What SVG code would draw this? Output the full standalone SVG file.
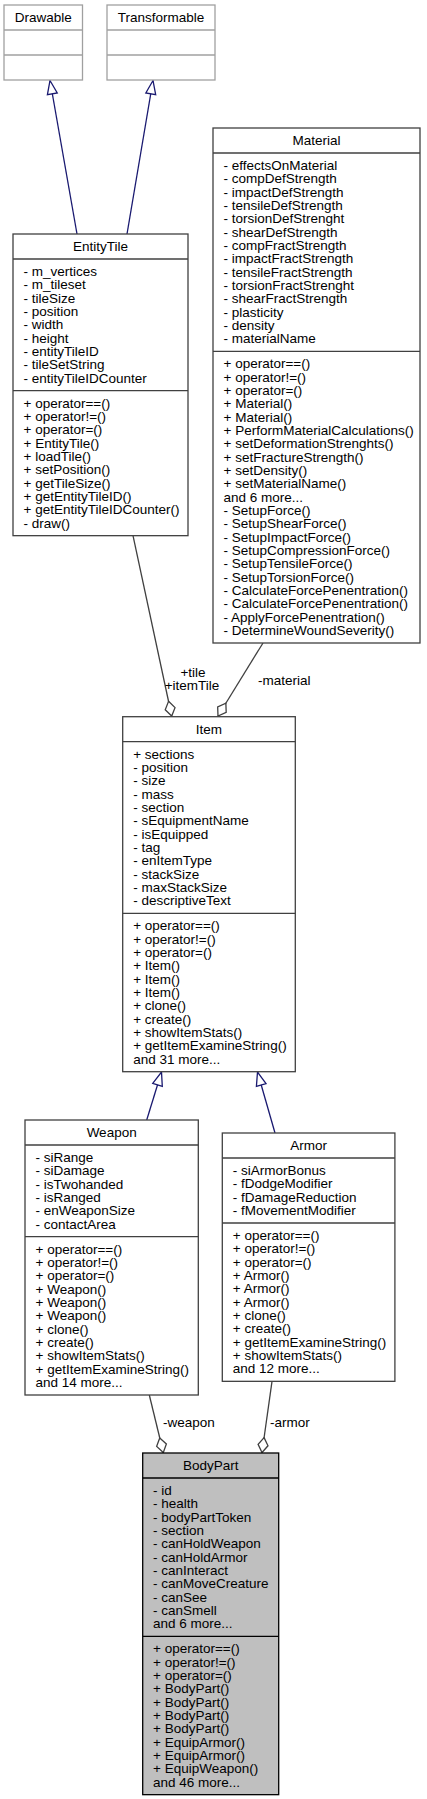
<svg xmlns="http://www.w3.org/2000/svg" width="427" height="1799" viewBox="0 0 427 1799">
<style>
text{font-family:"Liberation Sans",Arial,Helvetica,sans-serif;font-size:13.5px;fill:#000}
.t{text-anchor:middle}
.box{fill:#fff;stroke:#404040;stroke-width:1.3}
.ext{fill:#fff;stroke:#a0a0a0;stroke-width:1.3}
.focus{fill:#bfbfbf;stroke:#000;stroke-width:1.3}
.sep{stroke:#404040;stroke-width:1.3}
.sepx{stroke:#a0a0a0;stroke-width:1.3}
.sepf{stroke:#000;stroke-width:1.3}
.inh{fill:none;stroke:#191970;stroke-width:1.3}
.use{fill:none;stroke:#404040;stroke-width:1.3}
</style>
<defs>
<marker id="tri" markerUnits="userSpaceOnUse" markerWidth="16" markerHeight="12" viewBox="0 0 16 12" refX="15" refY="6" orient="auto" overflow="visible">
<path d="M1.5,1 L15,6 L1.5,11 Z" fill="#fff" stroke="#191970" stroke-width="1.3"/>
</marker>
<marker id="dia" markerUnits="userSpaceOnUse" markerWidth="17" markerHeight="12" viewBox="0 0 17 12" refX="16" refY="6" orient="auto" overflow="visible">
<path d="M1,6 L8.5,1 L16,6 L8.5,11 Z" fill="#fff" stroke="#404040" stroke-width="1.3"/>
</marker>
</defs>
<rect width="427" height="1799" fill="#fff"/>

<g id="connectors">
<path class="inh" d="M77,234 L50,80.5" marker-end="url(#tri)"/>
<path class="inh" d="M127,234 L153,80.5" marker-end="url(#tri)"/>
<path class="use" d="M133,535.7 L171.7,716" marker-end="url(#dia)"/>
<text x="193" y="677" class="t">+tile</text>
<text x="192" y="690" class="t">+itemTile</text>
<path class="use" d="M263,643 L218,716" marker-end="url(#dia)"/>
<text x="258" y="685">-material</text>
<path class="inh" d="M146.7,1120 L161.5,1072" marker-end="url(#tri)"/>
<path class="inh" d="M275,1133 L257.5,1072" marker-end="url(#tri)"/>
<path class="use" d="M149.3,1395 L163.3,1452.5" marker-end="url(#dia)"/>
<text x="163" y="1427">-weapon</text>
<path class="use" d="M272,1381.3 L262,1452.5" marker-end="url(#dia)"/>
<text x="270" y="1427">-armor</text>
</g>

<g id="node-Drawable">
<rect class="ext" x="4" y="5" width="78.5" height="75"/>
<line class="sepx" x1="4" y1="30" x2="82.5" y2="30"/>
<line class="sepx" x1="4" y1="55" x2="82.5" y2="55"/>
<text x="43.25" y="22" class="t">Drawable</text>
</g>

<g id="node-Transformable">
<rect class="ext" x="107" y="5" width="108" height="75"/>
<line class="sepx" x1="107" y1="30" x2="215" y2="30"/>
<line class="sepx" x1="107" y1="55" x2="215" y2="55"/>
<text x="161" y="22" class="t">Transformable</text>
</g>

<g id="node-EntityTile">
<rect class="box" x="13" y="234" width="175" height="301.67"/>
<line class="sep" x1="13" y1="259" x2="188" y2="259"/>
<line class="sep" x1="13" y1="390.67" x2="188" y2="390.67"/>
<text x="100.5" y="251" class="t">EntityTile</text>
<text x="23.5" y="276"><tspan x="23.5">- m_vertices</tspan><tspan x="23.5" dy="13.33">- m_tileset</tspan><tspan x="23.5" dy="13.33">- tileSize</tspan><tspan x="23.5" dy="13.33">- position</tspan><tspan x="23.5" dy="13.33">- width</tspan><tspan x="23.5" dy="13.33">- height</tspan><tspan x="23.5" dy="13.33">- entityTileID</tspan><tspan x="23.5" dy="13.33">- tileSetString</tspan><tspan x="23.5" dy="13.33">- entityTileIDCounter</tspan></text>
<text x="23.5" y="407.67"><tspan x="23.5">+ operator==()</tspan><tspan x="23.5" dy="13.33">+ operator!=()</tspan><tspan x="23.5" dy="13.33">+ operator=()</tspan><tspan x="23.5" dy="13.33">+ EntityTile()</tspan><tspan x="23.5" dy="13.33">+ loadTile()</tspan><tspan x="23.5" dy="13.33">+ setPosition()</tspan><tspan x="23.5" dy="13.33">+ getTileSize()</tspan><tspan x="23.5" dy="13.33">+ getEntityTileID()</tspan><tspan x="23.5" dy="13.33">+ getEntityTileIDCounter()</tspan><tspan x="23.5" dy="13.33">- draw()</tspan></text>
</g>

<g id="node-Material">
<rect class="box" x="213" y="128" width="207" height="515"/>
<line class="sep" x1="213" y1="153" x2="420" y2="153"/>
<line class="sep" x1="213" y1="351.33" x2="420" y2="351.33"/>
<text x="316.5" y="145" class="t">Material</text>
<text x="223.5" y="170"><tspan x="223.5">- effectsOnMaterial</tspan><tspan x="223.5" dy="13.33">- compDefStrength</tspan><tspan x="223.5" dy="13.33">- impactDefStrength</tspan><tspan x="223.5" dy="13.33">- tensileDefStrength</tspan><tspan x="223.5" dy="13.33">- torsionDefStrenght</tspan><tspan x="223.5" dy="13.33">- shearDefStrength</tspan><tspan x="223.5" dy="13.33">- compFractStrength</tspan><tspan x="223.5" dy="13.33">- impactFractStrength</tspan><tspan x="223.5" dy="13.33">- tensileFractStrength</tspan><tspan x="223.5" dy="13.33">- torsionFractStrenght</tspan><tspan x="223.5" dy="13.33">- shearFractStrength</tspan><tspan x="223.5" dy="13.33">- plasticity</tspan><tspan x="223.5" dy="13.33">- density</tspan><tspan x="223.5" dy="13.33">- materialName</tspan></text>
<text x="223.5" y="368.33"><tspan x="223.5">+ operator==()</tspan><tspan x="223.5" dy="13.33">+ operator!=()</tspan><tspan x="223.5" dy="13.33">+ operator=()</tspan><tspan x="223.5" dy="13.33">+ Material()</tspan><tspan x="223.5" dy="13.33">+ Material()</tspan><tspan x="223.5" dy="13.33">+ PerformMaterialCalculations()</tspan><tspan x="223.5" dy="13.33">+ setDeformationStrenghts()</tspan><tspan x="223.5" dy="13.33">+ setFractureStrength()</tspan><tspan x="223.5" dy="13.33">+ setDensity()</tspan><tspan x="223.5" dy="13.33">+ setMaterialName()</tspan><tspan x="223.5" dy="13.33">and 6 more...</tspan><tspan x="223.5" dy="13.33">- SetupForce()</tspan><tspan x="223.5" dy="13.33">- SetupShearForce()</tspan><tspan x="223.5" dy="13.33">- SetupImpactForce()</tspan><tspan x="223.5" dy="13.33">- SetupCompressionForce()</tspan><tspan x="223.5" dy="13.33">- SetupTensileForce()</tspan><tspan x="223.5" dy="13.33">- SetupTorsionForce()</tspan><tspan x="223.5" dy="13.33">- CalculateForcePenentration()</tspan><tspan x="223.5" dy="13.33">- CalculateForcePenentration()</tspan><tspan x="223.5" dy="13.33">- ApplyForcePenentration()</tspan><tspan x="223.5" dy="13.33">- DetermineWoundSeverity()</tspan></text>
</g>

<g id="node-Item">
<rect class="box" x="122.7" y="716.7" width="172.6" height="355"/>
<line class="sep" x1="122.7" y1="741.7" x2="295.3" y2="741.7"/>
<line class="sep" x1="122.7" y1="913.37" x2="295.3" y2="913.37"/>
<text x="209" y="733.7" class="t">Item</text>
<text x="133.2" y="758.7"><tspan x="133.2">+ sections</tspan><tspan x="133.2" dy="13.33">- position</tspan><tspan x="133.2" dy="13.33">- size</tspan><tspan x="133.2" dy="13.33">- mass</tspan><tspan x="133.2" dy="13.33">- section</tspan><tspan x="133.2" dy="13.33">- sEquipmentName</tspan><tspan x="133.2" dy="13.33">- isEquipped</tspan><tspan x="133.2" dy="13.33">- tag</tspan><tspan x="133.2" dy="13.33">- enItemType</tspan><tspan x="133.2" dy="13.33">- stackSize</tspan><tspan x="133.2" dy="13.33">- maxStackSize</tspan><tspan x="133.2" dy="13.33">- descriptiveText</tspan></text>
<text x="133.2" y="930.37"><tspan x="133.2">+ operator==()</tspan><tspan x="133.2" dy="13.33">+ operator!=()</tspan><tspan x="133.2" dy="13.33">+ operator=()</tspan><tspan x="133.2" dy="13.33">+ Item()</tspan><tspan x="133.2" dy="13.33">+ Item()</tspan><tspan x="133.2" dy="13.33">+ Item()</tspan><tspan x="133.2" dy="13.33">+ clone()</tspan><tspan x="133.2" dy="13.33">+ create()</tspan><tspan x="133.2" dy="13.33">+ showItemStats()</tspan><tspan x="133.2" dy="13.33">+ getItemExamineString()</tspan><tspan x="133.2" dy="13.33">and 31 more...</tspan></text>
</g>

<g id="node-Weapon">
<rect class="box" x="25" y="1120" width="173.3" height="275"/>
<line class="sep" x1="25" y1="1145" x2="198.3" y2="1145"/>
<line class="sep" x1="25" y1="1236.67" x2="198.3" y2="1236.67"/>
<text x="111.65" y="1137" class="t">Weapon</text>
<text x="35.5" y="1162"><tspan x="35.5">- siRange</tspan><tspan x="35.5" dy="13.33">- siDamage</tspan><tspan x="35.5" dy="13.33">- isTwohanded</tspan><tspan x="35.5" dy="13.33">- isRanged</tspan><tspan x="35.5" dy="13.33">- enWeaponSize</tspan><tspan x="35.5" dy="13.33">- contactArea</tspan></text>
<text x="35.5" y="1253.67"><tspan x="35.5">+ operator==()</tspan><tspan x="35.5" dy="13.33">+ operator!=()</tspan><tspan x="35.5" dy="13.33">+ operator=()</tspan><tspan x="35.5" dy="13.33">+ Weapon()</tspan><tspan x="35.5" dy="13.33">+ Weapon()</tspan><tspan x="35.5" dy="13.33">+ Weapon()</tspan><tspan x="35.5" dy="13.33">+ clone()</tspan><tspan x="35.5" dy="13.33">+ create()</tspan><tspan x="35.5" dy="13.33">+ showItemStats()</tspan><tspan x="35.5" dy="13.33">+ getItemExamineString()</tspan><tspan x="35.5" dy="13.33">and 14 more...</tspan></text>
</g>

<g id="node-Armor">
<rect class="box" x="222.3" y="1133" width="172.6" height="248.33"/>
<line class="sep" x1="222.3" y1="1158" x2="394.9" y2="1158"/>
<line class="sep" x1="222.3" y1="1223" x2="394.9" y2="1223"/>
<text x="308.6" y="1150" class="t">Armor</text>
<text x="232.8" y="1175"><tspan x="232.8">- siArmorBonus</tspan><tspan x="232.8" dy="13.33">- fDodgeModifier</tspan><tspan x="232.8" dy="13.33">- fDamageReduction</tspan><tspan x="232.8" dy="13.33">- fMovementModifier</tspan></text>
<text x="232.8" y="1240"><tspan x="232.8">+ operator==()</tspan><tspan x="232.8" dy="13.33">+ operator!=()</tspan><tspan x="232.8" dy="13.33">+ operator=()</tspan><tspan x="232.8" dy="13.33">+ Armor()</tspan><tspan x="232.8" dy="13.33">+ Armor()</tspan><tspan x="232.8" dy="13.33">+ Armor()</tspan><tspan x="232.8" dy="13.33">+ clone()</tspan><tspan x="232.8" dy="13.33">+ create()</tspan><tspan x="232.8" dy="13.33">+ getItemExamineString()</tspan><tspan x="232.8" dy="13.33">+ showItemStats()</tspan><tspan x="232.8" dy="13.33">and 12 more...</tspan></text>
</g>

<g id="node-BodyPart">
<rect class="focus" x="142.7" y="1453" width="136" height="341.67"/>
<line class="sepf" x1="142.7" y1="1478" x2="278.7" y2="1478"/>
<line class="sepf" x1="142.7" y1="1636.33" x2="278.7" y2="1636.33"/>
<text x="210.7" y="1470" class="t">BodyPart</text>
<text x="153" y="1495"><tspan x="153">- id</tspan><tspan x="153" dy="13.33">- health</tspan><tspan x="153" dy="13.33">- bodyPartToken</tspan><tspan x="153" dy="13.33">- section</tspan><tspan x="153" dy="13.33">- canHoldWeapon</tspan><tspan x="153" dy="13.33">- canHoldArmor</tspan><tspan x="153" dy="13.33">- canInteract</tspan><tspan x="153" dy="13.33">- canMoveCreature</tspan><tspan x="153" dy="13.33">- canSee</tspan><tspan x="153" dy="13.33">- canSmell</tspan><tspan x="153" dy="13.33">and 6 more...</tspan></text>
<text x="153" y="1653.33"><tspan x="153">+ operator==()</tspan><tspan x="153" dy="13.33">+ operator!=()</tspan><tspan x="153" dy="13.33">+ operator=()</tspan><tspan x="153" dy="13.33">+ BodyPart()</tspan><tspan x="153" dy="13.33">+ BodyPart()</tspan><tspan x="153" dy="13.33">+ BodyPart()</tspan><tspan x="153" dy="13.33">+ BodyPart()</tspan><tspan x="153" dy="13.33">+ EquipArmor()</tspan><tspan x="153" dy="13.33">+ EquipArmor()</tspan><tspan x="153" dy="13.33">+ EquipWeapon()</tspan><tspan x="153" dy="13.33">and 46 more...</tspan></text>
</g>
</svg>
